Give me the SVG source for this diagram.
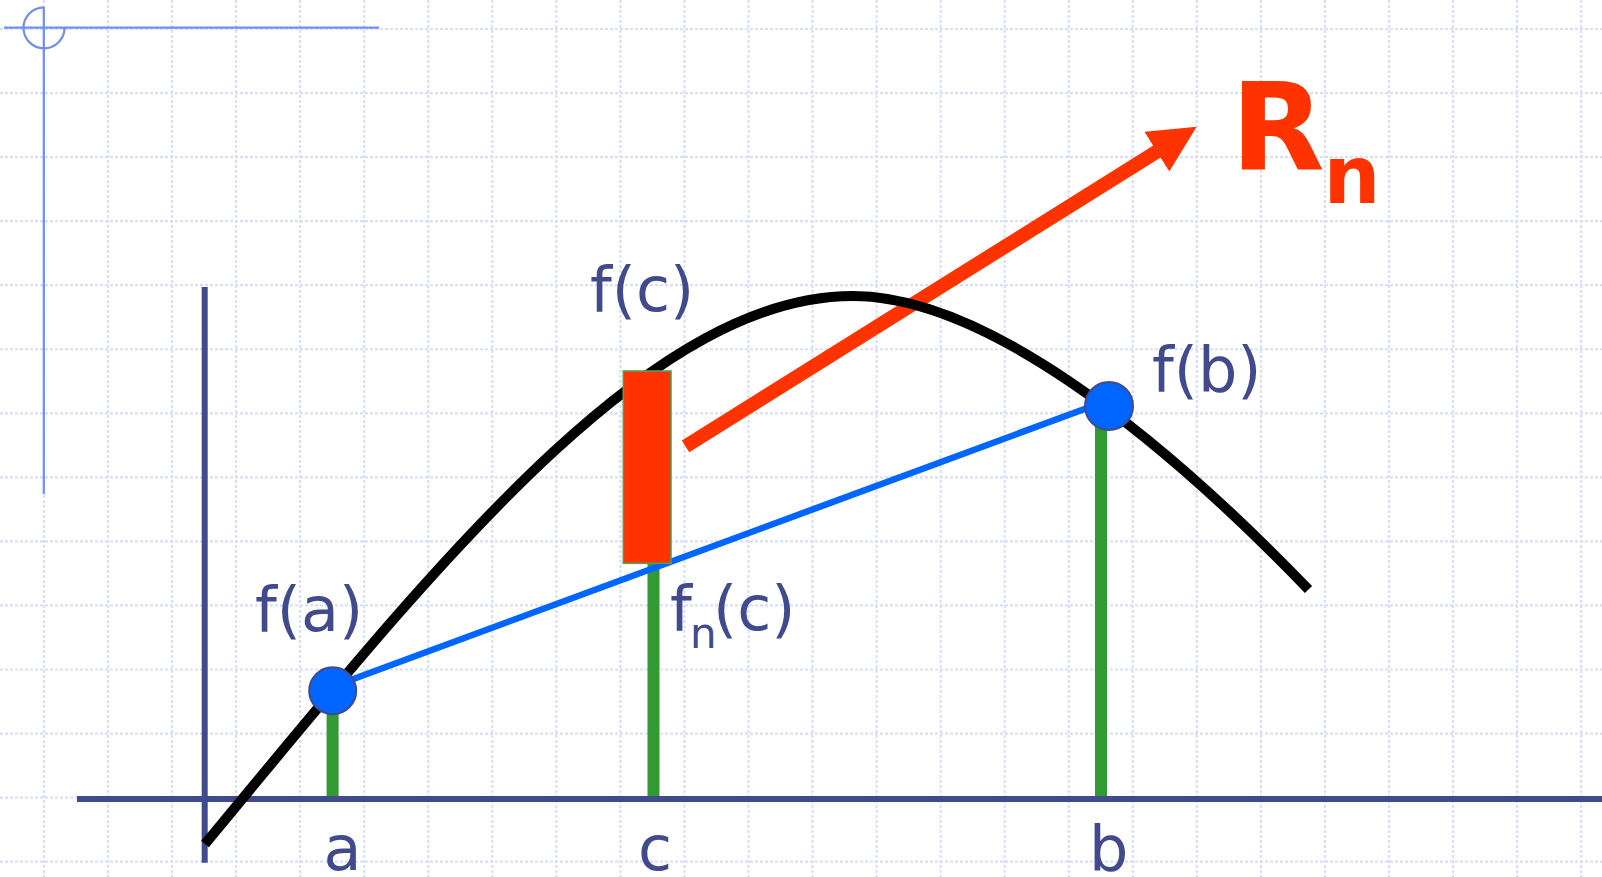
<svg xmlns="http://www.w3.org/2000/svg" width="1602" height="877" viewBox="0 0 1602 877">
  <style>
    .grid { stroke: #d7e0f8; stroke-width: 2.2; stroke-dasharray: 3 2; fill: none; }
    .deco { stroke: #6f8ef0; stroke-width: 2.2; fill: none; }
    .axis { stroke: #414a8c; stroke-width: 6; fill: none; }
    .stem { stroke: #339933; stroke-width: 12; fill: none; }
    .lbl { font-family: "DejaVu Sans", Verdana, sans-serif; font-size: 62px; fill: #414a8c; }
    .rn { font-family: "DejaVu Sans", Verdana, sans-serif; font-weight: bold; fill: #ff3300; }
    .pt { fill: #0066ff; stroke: #414a8c; stroke-width: 2; }
  </style>
  <defs>
    <marker id="head" markerUnits="userSpaceOnUse" viewBox="0 0 47 47" markerWidth="47" markerHeight="47" refX="4" refY="23.5" orient="auto">
      <path d="M0,0 L47,23.5 L0,47 Z" fill="#ff3300"/>
    </marker>
  </defs>
  <rect x="0" y="0" width="1602" height="877" fill="#ffffff"/>
  <g id="grid">
    <path class="grid" d="M43.95,0V877 M108,0V877 M172.05,0V877 M236.1,0V877 M300.15,0V877 M364.2,0V877 M428.25,0V877 M492.3,0V877 M556.35,0V877 M620.4,0V877 M684.45,0V877 M748.5,0V877 M812.55,0V877 M876.6,0V877 M940.65,0V877 M1004.7,0V877 M1068.75,0V877 M1132.8,0V877 M1196.85,0V877 M1260.9,0V877 M1324.95,0V877 M1389,0V877 M1453.05,0V877 M1517.1,0V877 M1581.15,0V877"/>
    <path class="grid" d="M0,29H1602 M0,93.05H1602 M0,157.1H1602 M0,221.15H1602 M0,285.2H1602 M0,349.25H1602 M0,413.3H1602 M0,477.35H1602 M0,541.4H1602 M0,605.45H1602 M0,669.5H1602 M0,733.55H1602 M0,797.6H1602 M0,861.65H1602"/>
  </g>
  <g id="corner">
    <line class="deco" x1="4" y1="27.7" x2="379" y2="27.7"/>
    <line class="deco" x1="43.8" y1="7" x2="43.8" y2="494"/>
    <path class="deco" d="M43.8,7.3 A20.5,20.5 0 1 0 64.5,27.7"/>
  </g>
  <g id="axes">
    <line class="axis" x1="77" y1="799" x2="1602" y2="799"/>
    <line class="axis" x1="204.7" y1="287" x2="204.7" y2="862.7"/>
  </g>
  <g id="connectors">
    <line id="stem-a" class="stem" x1="332.6" y1="690" x2="332.6" y2="796"/>
    <line id="stem-c" class="stem" x1="653.5" y1="563" x2="653.5" y2="796"/>
    <line id="stem-b" class="stem" x1="1101" y1="406" x2="1101" y2="796"/>
    <line id="chord" x1="333" y1="686.5" x2="1109" y2="400" stroke="#0066ff" stroke-width="6.5"/>
    <line id="rn-arrow" x1="685.5" y1="446.4" x2="1160.2" y2="149.5" stroke="#ff3300" stroke-width="14" marker-end="url(#head)"/>
    <path id="curve" d="M205,844 C440,560 650,296 853,296 C980,296 1150,425 1308.5,589.5" fill="none" stroke="#000000" stroke-width="10"/>
  </g>
  <g id="remainder">
    <rect x="623.3" y="371" width="47.7" height="192.3" fill="#ff3300" stroke="#55a055" stroke-width="1.6"/>
  </g>
  <g id="point-a">
    <circle class="pt" cx="332.7" cy="690.7" r="23.5"/>
  </g>
  <g id="point-b">
    <circle class="pt" cx="1109" cy="406" r="24"/>
  </g>
  <g id="labels">
    <text class="lbl" x="255" y="631">f(a)</text>
    <text class="lbl" x="590" y="311">f(c)</text>
    <text class="lbl" x="1152" y="391">f(b)</text>
    <text class="lbl"><tspan x="670" y="630">f</tspan><tspan x="690" y="648" font-size="42">n</tspan><tspan x="713" y="630">(c)</tspan></text>
    <text class="lbl" x="323.5" y="870">a</text>
    <text class="lbl" x="638" y="870">c</text>
    <text class="lbl" x="1089" y="870">b</text>
  </g>
  <g id="rn-label">
    <text class="rn"><tspan x="1230.7" y="170" font-size="122">R</tspan><tspan x="1323.6" y="202.7" font-size="80">n</tspan></text>
  </g>
</svg>
